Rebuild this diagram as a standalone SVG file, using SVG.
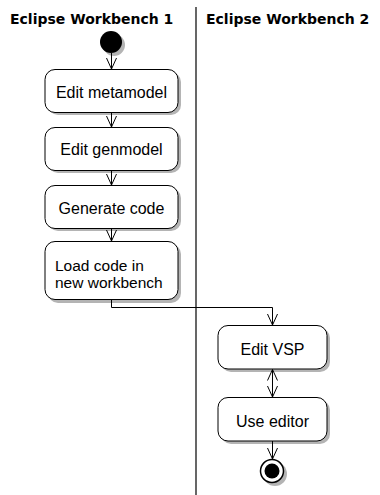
<svg xmlns="http://www.w3.org/2000/svg" width="380" height="495" viewBox="0 0 380 495">
<defs>
<style>
.title{font-family:"DejaVu Sans",Verdana,sans-serif;font-weight:bold;font-size:14px;fill:#000}
.lbl{font-family:"Liberation Sans",Arial,sans-serif;font-size:16px;fill:#000}
.lbl2{font-family:"Liberation Sans",Arial,sans-serif;font-size:15.5px;fill:#000}
.box{fill:#fff;stroke:#000;stroke-width:1}
.shadow{fill:#b4b4b4;stroke:none}
.edge{fill:none;stroke:#000;stroke-width:1}
.lane{stroke:#000;stroke-width:1.2}
</style>
<marker id="arr" viewBox="0 0 12 12" refX="11" refY="6" markerWidth="12" markerHeight="12" markerUnits="userSpaceOnUse" orient="auto-start-reverse">
<path d="M0,1 L11,6 L0,11" fill="none" stroke="#000" stroke-width="1"/>
</marker>
</defs>
<rect width="380" height="495" fill="#fff"/>
<g id="lanes">
<line class="lane" x1="196" y1="7" x2="196" y2="495"/>
<text class="title" x="10" y="24">Eclipse Workbench 1</text>
<text class="title" x="206" y="24">Eclipse Workbench 2</text>
</g>
<g id="start">
<circle class="shadow" cx="114" cy="45" r="11"/>
<circle cx="111" cy="42" r="11" fill="#000"/>
</g>
<g id="editMetamodel">
<rect class="shadow" x="48" y="72" width="133" height="43" rx="10"/>
<rect class="box" x="45" y="69.5" width="133" height="43" rx="10"/>
<text class="lbl" x="111.5" y="98" text-anchor="middle">Edit metamodel</text>
</g>
<g id="editGenmodel">
<rect class="shadow" x="48" y="130" width="133" height="43" rx="10"/>
<rect class="box" x="45" y="127.5" width="133" height="43" rx="10"/>
<text class="lbl" x="111.5" y="155" text-anchor="middle">Edit genmodel</text>
</g>
<g id="generateCode">
<rect class="shadow" x="48" y="188" width="133" height="43" rx="10"/>
<rect class="box" x="45" y="185.5" width="133" height="43" rx="10"/>
<text class="lbl" x="111.5" y="214" text-anchor="middle">Generate code</text>
</g>
<g id="loadCode">
<rect class="shadow" x="48" y="244" width="133" height="59" rx="10"/>
<rect class="box" x="45" y="241.5" width="133" height="58" rx="10"/>
<text class="lbl2" x="55" y="271">Load code in</text>
<text class="lbl2" x="55" y="288">new workbench</text>
</g>
<g id="editVSP">
<rect class="shadow" x="221" y="328" width="109" height="44" rx="10"/>
<rect class="box" x="218" y="325.5" width="109" height="43.5" rx="10"/>
<text class="lbl" x="272.5" y="355" text-anchor="middle">Edit VSP</text>
</g>
<g id="useEditor">
<rect class="shadow" x="221" y="400" width="109" height="44" rx="10"/>
<rect class="box" x="218" y="397.5" width="109" height="43.5" rx="10"/>
<text class="lbl" x="272.5" y="427" text-anchor="middle">Use editor</text>
</g>
<g id="end">
<circle class="shadow" cx="275" cy="474" r="12"/>
<circle cx="272" cy="471" r="11.5" fill="#fff" stroke="#000" stroke-width="1.5"/>
<circle cx="272" cy="471" r="7.5" fill="#000"/>
</g>
<g id="connectors">
<path class="edge" d="M111.5,53 V69" marker-end="url(#arr)"/>
<path class="edge" d="M111.5,112.5 V127" marker-end="url(#arr)"/>
<path class="edge" d="M111.5,170.5 V185" marker-end="url(#arr)"/>
<path class="edge" d="M111.5,228.5 V241" marker-end="url(#arr)"/>
<path class="edge" d="M111.5,299.5 V307.5 H272.5 V325" marker-end="url(#arr)"/>
<path class="edge" d="M272.5,369.5 V397" marker-start="url(#arr)" marker-end="url(#arr)"/>
<path class="edge" d="M272.5,441 V459" marker-end="url(#arr)"/>
</g>
</svg>
